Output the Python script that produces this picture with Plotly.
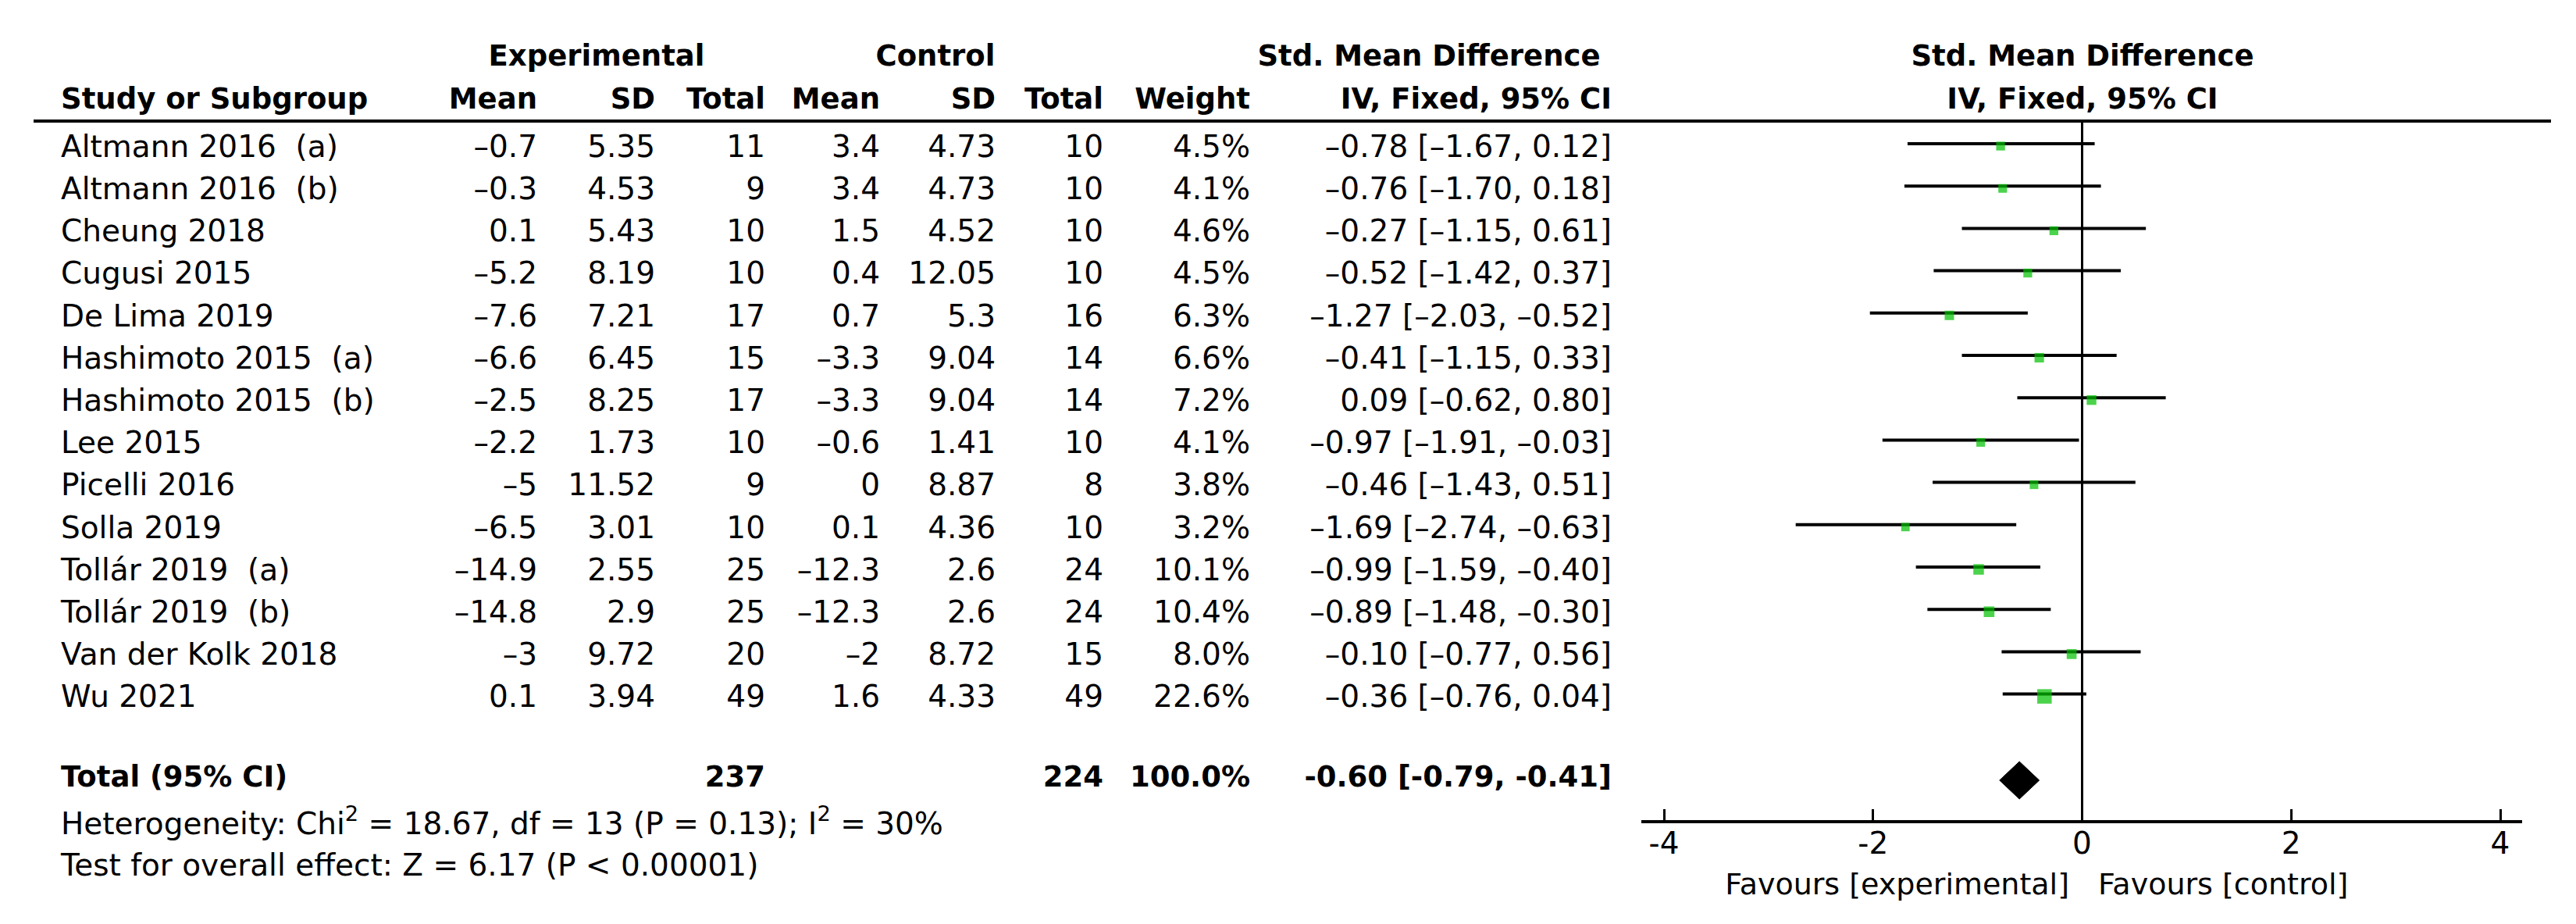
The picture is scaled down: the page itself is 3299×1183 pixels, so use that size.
import plotly.graph_objects as go

# ---------------- data ----------------
studies = ["Altmann 2016  (a)", "Altmann 2016  (b)", "Cheung 2018", "Cugusi 2015",
           "De Lima 2019", "Hashimoto 2015  (a)", "Hashimoto 2015  (b)", "Lee 2015",
           "Picelli 2016", "Solla 2019", "Tollár 2019  (a)", "Tollár 2019  (b)",
           "Van der Kolk 2018", "Wu 2021"]
exp_mean = [-0.7, -0.3, 0.1, -5.2, -7.6, -6.6, -2.5, -2.2, -5, -6.5, -14.9, -14.8, -3, 0.1]
exp_sd = [5.35, 4.53, 5.43, 8.19, 7.21, 6.45, 8.25, 1.73, 11.52, 3.01, 2.55, 2.9, 9.72, 3.94]
exp_n = [11, 9, 10, 10, 17, 15, 17, 10, 9, 10, 25, 25, 20, 49]
ctl_mean = [3.4, 3.4, 1.5, 0.4, 0.7, -3.3, -3.3, -0.6, 0, 0.1, -12.3, -12.3, -2, 1.6]
ctl_sd = [4.73, 4.73, 4.52, 12.05, 5.3, 9.04, 9.04, 1.41, 8.87, 4.36, 2.6, 2.6, 8.72, 4.33]
ctl_n = [10, 10, 10, 10, 16, 14, 14, 10, 8, 10, 24, 24, 15, 49]
weight = [4.5, 4.1, 4.6, 4.5, 6.3, 6.6, 7.2, 4.1, 3.8, 3.2, 10.1, 10.4, 8.0, 22.6]
smd = [-0.78, -0.76, -0.27, -0.52, -1.27, -0.41, 0.09, -0.97, -0.46, -1.69, -0.99, -0.89, -0.10, -0.36]
ci_lo = [-1.67, -1.70, -1.15, -1.42, -2.03, -1.15, -0.62, -1.91, -1.43, -2.74, -1.59, -1.48, -0.77, -0.76]
ci_hi = [0.12, 0.18, 0.61, 0.37, -0.52, 0.33, 0.80, -0.03, 0.51, -0.63, -0.40, -0.30, 0.56, 0.04]

total_label = "Total (95% CI)"
total_exp_n = 237
total_ctl_n = 224
total_weight = 100.0
total_smd = -0.60
total_lo = -0.79
total_hi = -0.41

heterogeneity_text = "Heterogeneity: Chi<sup>2</sup> = 18.67, df = 13 (P = 0.13); I<sup>2</sup> = 30%"
overall_text = "Test for overall effect: Z = 6.17 (P < 0.00001)"

tick_vals = [-4, -2, 0, 2, 4]
tick_text = ["-4", "-2", "0", "2", "4"]
favours_left = "Favours [experimental]"
favours_right = "Favours [control]"

# ---------------- geometry / style ----------------
W, H = 3299, 1183
ROW0, ROWH = 183.0, 54.2


def ry(px):
    return (px - ROW0) / ROWH


FONT = "DejaVu Sans"
FS = 39
FS_B = 37
GREEN = "#00C000"

x_left = 70
col_right = dict(em=680, esd=831, en=972, cm=1119, csd=1267, cn=1405, w=1593, ci=2056)

plot_l, plot_r = 2094, 3222
px_m4, px_p4 = 2123, 3194
ppu = (px_p4 - px_m4) / 8.0
x2_range = [-4 - (px_m4 - plot_l) / ppu, 4 + (plot_r - px_p4) / ppu]

n = len(studies)
rows = list(range(n))
total_row = ry(990)
het_row = ry(1050)
overall_row = ry(1103)
axis_px = 1044
fav_row = ry(1127)
hdr1_row = ry(67)
hdr2_row = ry(122)
rule_row = ry(147)


def dash(v, fmt="{:g}"):
    return fmt.format(v).replace("-", "\u2013")


fig = go.Figure()


def text_col(xpos, ys, texts, pos, bold=False, size=None):
    t = [f"<b>{s}</b>" if bold else s for s in texts]
    fs = size if size else (FS_B if bold else FS)
    fig.add_trace(go.Scatter(x=[xpos] * len(ys), y=ys, text=t, mode="text",
                             textposition=pos, cliponaxis=False, hoverinfo="skip",
                             textfont=dict(family=FONT, size=fs, color="black"),
                             xaxis="x", yaxis="y"))


# headers
text_col(756, [hdr1_row], ["Experimental"], "middle center", True)
text_col(1190, [hdr1_row], ["Control"], "middle center", True)
text_col(1822, [hdr1_row], ["Std. Mean Difference"], "middle center", True)
text_col(2659, [hdr1_row], ["Std. Mean Difference"], "middle center", True)
text_col(2659, [hdr2_row], ["IV, Fixed, 95% CI"], "middle center", True)
text_col(x_left, [hdr2_row], ["Study or Subgroup"], "middle right", True)
for key, lab in [("em", "Mean"), ("esd", "SD"), ("en", "Total"), ("cm", "Mean"),
                 ("csd", "SD"), ("cn", "Total"), ("w", "Weight"), ("ci", "IV, Fixed, 95% CI")]:
    text_col(col_right[key], [hdr2_row], [lab], "middle left", True)

# study rows
text_col(x_left, rows, studies, "middle right")
text_col(col_right["em"], rows, [dash(v) for v in exp_mean], "middle left")
text_col(col_right["esd"], rows, [dash(v) for v in exp_sd], "middle left")
text_col(col_right["en"], rows, [str(v) for v in exp_n], "middle left")
text_col(col_right["cm"], rows, [dash(v) for v in ctl_mean], "middle left")
text_col(col_right["csd"], rows, [dash(v) for v in ctl_sd], "middle left")
text_col(col_right["cn"], rows, [str(v) for v in ctl_n], "middle left")
text_col(col_right["w"], rows, [f"{v:.1f}%" for v in weight], "middle left")
text_col(col_right["ci"], rows,
         [f"{dash(m, '{:.2f}')} [{dash(lo, '{:.2f}')}, {dash(hi, '{:.2f}')}]"
          for m, lo, hi in zip(smd, ci_lo, ci_hi)], "middle left")

# total row
text_col(x_left, [total_row], [total_label], "middle right", True)
text_col(col_right["en"], [total_row], [str(total_exp_n)], "middle left", True)
text_col(col_right["cn"], [total_row], [str(total_ctl_n)], "middle left", True)
text_col(col_right["w"], [total_row], [f"{total_weight:.1f}%"], "middle left", True)
text_col(col_right["ci"], [total_row],
         [f"{total_smd:.2f} [{total_lo:.2f}, {total_hi:.2f}]"], "middle left", True)

# footnotes
text_col(x_left, [het_row], [heterogeneity_text], "middle right")
text_col(x_left, [overall_row], [overall_text], "middle right")

# favours labels
text_col(2642, [fav_row], [favours_left], "middle left", size=38)
text_col(2679, [fav_row], [favours_right], "middle right", size=38)

# header rule
fig.add_trace(go.Scatter(x=[35, 3259], y=[rule_row, rule_row], mode="lines",
                         line=dict(color="black", width=4), hoverinfo="skip",
                         xaxis="x", yaxis="y"))

# zero line
fig.add_trace(go.Scatter(x=[0, 0], y=[rule_row, ry(axis_px)], mode="lines",
                         line=dict(color="black", width=3), hoverinfo="skip",
                         xaxis="x2", yaxis="y", cliponaxis=False))

# CI lines
line_off = -7 / ROWH
sq_off = -4 / ROWH
cx, cy = [], []
for i, (lo, hi) in enumerate(zip(ci_lo, ci_hi)):
    cx += [lo, hi, None]
    cy += [i + line_off, i + line_off, None]
fig.add_trace(go.Scatter(x=cx, y=cy, mode="lines", line=dict(color="black", width=4),
                         hoverinfo="skip", xaxis="x2", yaxis="y", cliponaxis=False))

# squares
sizes = [9.5 + 0.4 * w for w in weight]
fig.add_trace(go.Scatter(x=smd, y=[i + sq_off for i in rows], mode="markers",
                         marker=dict(symbol="square", size=sizes, color=GREEN,
                                     line=dict(width=0)),
                         hoverinfo="skip", xaxis="x2", yaxis="y", cliponaxis=False))

# diamond
dh = 24 / ROWH
dy = ry(991)
fig.add_trace(go.Scatter(x=[total_lo, total_smd, total_hi, total_smd, total_lo],
                         y=[dy, dy - dh, dy, dy + dh, dy], mode="lines", fill="toself",
                         fillcolor="black", line=dict(color="black", width=1),
                         hoverinfo="skip", xaxis="x2", yaxis="y", cliponaxis=False))

fig.update_layout(
    width=W, height=H, margin=dict(l=0, r=0, t=0, b=0),
    plot_bgcolor="rgba(0,0,0,0)", paper_bgcolor="white", showlegend=False,
    font=dict(family=FONT, size=FS, color="black"),
    xaxis=dict(domain=[0, 1], range=[0, W], visible=False, fixedrange=True),
    yaxis=dict(domain=[0, 1], range=[ry(H), ry(0)], visible=False, fixedrange=True),
    xaxis2=dict(domain=[plot_l / W, plot_r / W], range=x2_range, anchor="free",
                position=1 - axis_px / H, showline=True, linecolor="black", linewidth=4,
                ticks="inside", ticklen=14, tickwidth=3, tickcolor="black",
                tickmode="array", tickvals=tick_vals, ticktext=tick_text,
                ticklabelstandoff=-8,
                showgrid=False, zeroline=False, tickfont=dict(family=FONT, size=FS),
                fixedrange=True),
)

fig.write_html("out.html")
